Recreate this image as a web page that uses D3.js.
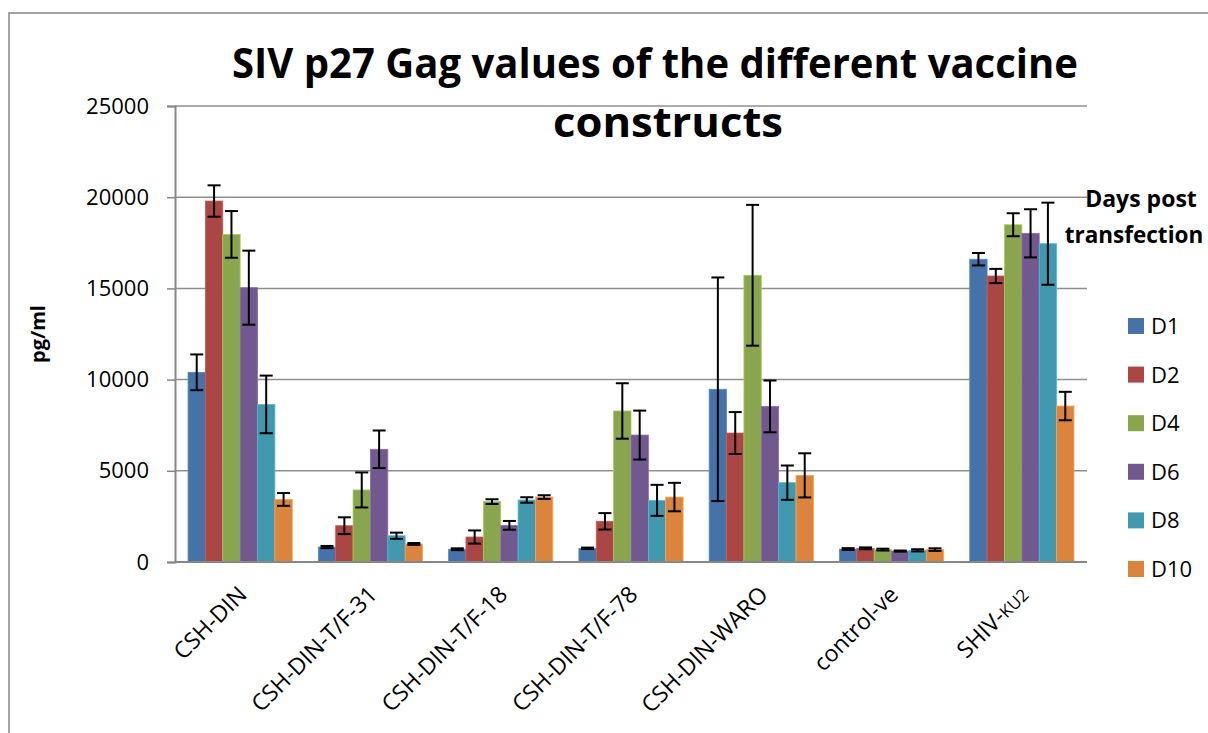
<!DOCTYPE html>
<html>
<head>
<meta charset="utf-8">
<title>SIV p27 Gag values</title>
<style>
    body { margin: 0; background: #fff; font-family: "Open Sans", sans-serif; }
    svg text { fill: #000; }
</style>
</head>
<body>
<script src="https://cdn.jsdelivr.net/npm/d3@7/dist/d3.min.js"></script>
<script>
    // data
    var categories = ["CSH-DIN", "CSH-DIN-T/F-31", "CSH-DIN-T/F-18", "CSH-DIN-T/F-78", "CSH-DIN-WARO", "control-ve", "SHIV-KU2"];
    var seriesNames = ["D1", "D2", "D4", "D6", "D8", "D10"];
    var d1 = [10400, 820, 700, 750, 9470, 710, 16600];
    var d2 = [19790, 1990, 1370, 2230, 7070, 750, 15680];
    var d4 = [17960, 3950, 3310, 8280, 15720, 680, 18490];
    var d6 = [15040, 6180, 2010, 6960, 8530, 600, 18020];
    var d8 = [8640, 1440, 3400, 3380, 4350, 640, 17450];
    var d10 = [3430, 990, 3560, 3560, 4750, 680, 8550];
    var e1 = [980, 60, 50, 40, 6130, 50, 340];
    var e2 = [860, 460, 360, 450, 1150, 50, 390];
    var e4 = [1280, 960, 130, 1520, 3860, 50, 630];
    var e6 = [2030, 1030, 240, 1340, 1420, 30, 1320];
    var e8 = [1580, 170, 150, 850, 940, 60, 2250];
    var e10 = [350, 50, 100, 780, 1210, 70, 780];
    var yTicks = [0, 5000, 10000, 15000, 20000, 25000];
    var colors = ["#4572A7", "#AA4643", "#89A54E", "#71588F", "#4198AF", "#DB843D"];

    var values = [d1, d2, d4, d6, d8, d10];
    var errors = [e1, e2, e4, e6, e8, e10];

    var width = 1208, height = 733;
    var plotLeft = 175, plotRight = 1087, plotTop = 106, plotBottom = 562;

    var svg = d3.select("body").append("svg")
        .attr("width", width)
        .attr("height", height);

    // chart frame (only top and left edges are in view)
    svg.append("rect")
        .attr("x", 9).attr("y", 13)
        .attr("width", 1240).attr("height", 760)
        .attr("fill", "none")
        .attr("stroke", "#878787")
        .attr("stroke-width", 1.5);

    var x0 = d3.scaleBand().domain(categories).range([plotLeft, plotRight]).padding(0);
    var x1 = d3.scaleBand().domain(seriesNames)
        .range([x0.bandwidth() * 0.1, x0.bandwidth() * 0.9]).padding(0);
    var y = d3.scaleLinear().domain([0, 25000]).range([plotBottom, plotTop]);

    // gridlines
    svg.append("g").selectAll("line")
        .data(yTicks.slice(1))
        .enter().append("line")
        .attr("x1", plotLeft).attr("x2", plotRight)
        .attr("y1", function (d) { return y(d); })
        .attr("y2", function (d) { return y(d); })
        .attr("stroke", "#8f8f8f")
        .attr("stroke-width", 1.5);

    // y axis
    var yAxis = svg.append("g")
        .attr("transform", "translate(" + plotLeft + ",0)")
        .call(d3.axisLeft(y).tickValues(yTicks).tickSize(8).tickPadding(18).tickFormat(d3.format("d")));
    yAxis.select(".domain").attr("stroke", "#878787").attr("stroke-width", 2);
    yAxis.selectAll(".tick line").attr("stroke", "#878787").attr("stroke-width", 1.5);
    yAxis.selectAll(".tick text")
        .attr("font-family", "Open Sans")
        .attr("font-size", 22)
        .attr("fill", "#000");

    // bars
    var groups = svg.append("g").selectAll("g")
        .data(seriesNames)
        .enter().append("g");

    groups.each(function (s, si) {
        var g = d3.select(this);
        g.selectAll("rect")
            .data(values[si])
            .enter().append("rect")
            .attr("x", function (d, i) { return x0(categories[i]) + x1(s); })
            .attr("y", function (d) { return y(d); })
            .attr("width", x1.bandwidth())
            .attr("height", function (d) { return y(0) - y(d); })
            .attr("fill", colors[si])
            .attr("stroke", d3.color(colors[si]).brighter(0.6))
            .attr("stroke-width", 0.8);
    });

    // x axis line
    svg.append("line")
        .attr("x1", plotLeft).attr("x2", plotRight)
        .attr("y1", y(0)).attr("y2", y(0))
        .attr("stroke", "#878787")
        .attr("stroke-width", 2);

    // error bars
    var cap = 6.5;
    groups.each(function (s, si) {
        var g = d3.select(this).append("g").attr("stroke", "#000").attr("stroke-width", 2);
        values[si].forEach(function (v, i) {
            var cx = x0(categories[i]) + x1(s) + x1.bandwidth() / 2;
            var hi = y(v + errors[si][i]), lo = y(v - errors[si][i]);
            g.append("line").attr("x1", cx).attr("x2", cx).attr("y1", hi).attr("y2", lo);
            g.append("line").attr("x1", cx - cap).attr("x2", cx + cap).attr("y1", hi).attr("y2", hi);
            g.append("line").attr("x1", cx - cap).attr("x2", cx + cap).attr("y1", lo).attr("y2", lo);
        });
    });

    // category labels, rotated
    var xl = svg.append("g").selectAll("text")
        .data(categories)
        .enter().append("text")
        .attr("transform", function (d) {
            return "translate(" + (x0(d) + x0.bandwidth() / 2 + 8) + "," + 596 + ") rotate(-45)";
        })
        .attr("text-anchor", "end")
        .attr("font-size", 23);
    xl.each(function (d) {
        var t = d3.select(this);
        if (d === "SHIV-KU2") {
            t.append("tspan").text("SHIV-");
            t.append("tspan").attr("font-size", 17).text("KU2");
        } else {
            t.text(d);
        }
    });

    // title
    svg.append("text")
        .attr("x", 655).attr("y", 78)
        .attr("text-anchor", "middle")
        .attr("font-weight", "bold")
        .attr("font-size", 42)
        .attr("textLength", 846)
        .attr("lengthAdjust", "spacingAndGlyphs")
        .text("SIV p27 Gag values of the different vaccine");
    svg.append("text")
        .attr("x", 668).attr("y", 137)
        .attr("text-anchor", "middle")
        .attr("font-weight", "bold")
        .attr("font-size", 42)
        .attr("textLength", 230)
        .attr("lengthAdjust", "spacingAndGlyphs")
        .text("constructs");

    // y axis title
    svg.append("text")
        .attr("transform", "translate(45,334) rotate(-90)")
        .attr("text-anchor", "middle")
        .attr("font-weight", "bold")
        .attr("font-size", 20)
        .text("pg/ml");

    // legend
    svg.append("text")
        .attr("x", 1141).attr("y", 207)
        .attr("text-anchor", "middle")
        .attr("font-weight", "bold")
        .attr("font-size", 23)
        .text("Days post");
    svg.append("text")
        .attr("x", 1134).attr("y", 243)
        .attr("text-anchor", "middle")
        .attr("font-weight", "bold")
        .attr("font-size", 22.5)
        .text("transfection");

    var legend = svg.append("g").selectAll("g")
        .data(seriesNames)
        .enter().append("g")
        .attr("transform", function (d, i) { return "translate(1128," + (326 + i * 48.6) + ")"; });
    legend.append("rect")
        .attr("x", 0).attr("y", -8)
        .attr("width", 16).attr("height", 16)
        .attr("fill", function (d, i) { return colors[i]; });
    legend.append("text")
        .attr("x", 23).attr("y", 8)
        .attr("font-size", 22)
        .text(function (d) { return d; });
</script>
</body>
</html>
